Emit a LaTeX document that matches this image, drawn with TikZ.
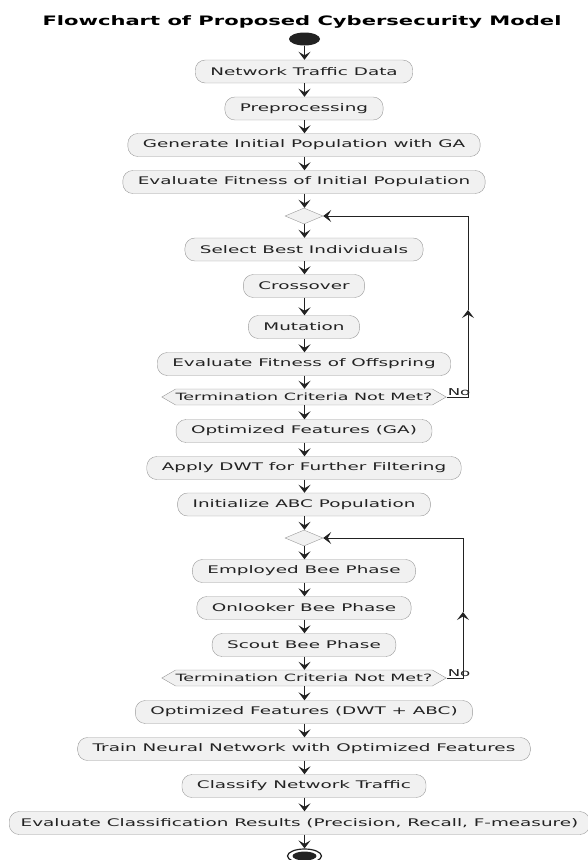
\documentclass[tikz,border=0pt]{standalone}
\usepackage{fontspec}
\usepackage{tikz}
\usetikzlibrary{arrows.meta,shapes.geometric,shapes.symbols}
\newfontfamily\umlfont[FakeStretch=1.75]{DejaVu Sans}
\newfontfamily\umltitle[FakeStretch=1.62]{DejaVu Sans Bold}
\definecolor{umlfill}{HTML}{F1F1F1}
\definecolor{umlborder}{HTML}{999999}
\definecolor{umlline}{HTML}{222222}
\tikzstyle{act}=[draw=umlborder, fill=umlfill, rounded corners=10pt, minimum height=23pt, inner xsep=15pt, inner ysep=0pt, text=umlline, font=\umlfont\fontsize{10.5}{12}\selectfont]
\tikzstyle{merge}=[diamond, draw=umlborder, fill=umlfill, minimum width=38pt, minimum height=16pt, inner sep=0pt]
\tikzstyle{cond}=[signal, signal to=west and east, signal pointer angle=60, draw=umlborder, fill=umlfill, minimum height=16pt, inner ysep=0pt, inner xsep=0pt, text=umlline, font=\umlfont\fontsize{10}{12}\selectfont]
\tikzstyle{flow}=[draw=umlline, line width=1.8pt, -{Stealth[length=8pt, width=12pt, inset=3.5pt]}]
\tikzstyle{back}=[draw=umlline, line width=0.9pt, -{Stealth[length=8pt, width=12pt, inset=3.5pt]}]
\tikzstyle{lab}=[text=umlline, font=\umlfont\fontsize{9.5}{10}\selectfont, inner sep=1pt]
\begin{document}
\begin{tikzpicture}[x=1pt, y=-1pt]
      \useasboundingbox (0,0) rectangle (587,860);
      %
      \node at (302,22) [font=\umltitle\fontsize{13}{15}\selectfont] (title) {Flowchart of Proposed Cybersecurity Model};
      \node at (304.5,39) [ellipse, fill=umlline, minimum width=31pt, minimum height=13pt, inner sep=0pt] (start) {};
      % genetic algorithm part
      \node at (304,71.5) [act] (n1) {Network Traffic Data};
      \node at (304,108.5) [act] (n2) {Preprocessing};
      \node at (304,145) [act] (n3) {Generate Initial Population with GA};
      \node at (304,182) [act] (n4) {Evaluate Fitness of Initial Population};
      \node at (304,216) [merge] (m1) {};
      \node at (304,249.5) [act] (g1) {Select Best Individuals};
      \node at (304,286) [act] (g2) {Crossover};
      \node at (304,327) [act] (g3) {Mutation};
      \node at (304,364) [act] (g4) {Evaluate Fitness of Offspring};
      \node at (304,397) [cond] (t1) {Termination Criteria Not Met?};
      % bee colony part
      \node at (304,431) [act] (o1) {Optimized Features (GA)};
      \node at (304,468) [act] (o2) {Apply DWT for Further Filtering};
      \node at (304,504.5) [act] (o3) {Initialize ABC Population};
      \node at (304,538) [merge] (m2) {};
      \node at (304,571) [act] (b1) {Employed Bee Phase};
      \node at (304,608) [act] (b2) {Onlooker Bee Phase};
      \node at (304,645) [act] (b3) {Scout Bee Phase};
      \node at (304,678) [cond] (t2) {Termination Criteria Not Met?};
      % classification
      \node at (304,712) [act] (c1) {Optimized Features (DWT + ABC)};
      \node at (304,749) [act] (c2) {Train Neural Network with Optimized Features};
      \node at (304,786) [act] (c3) {Classify Network Traffic};
      \node at (299.5,823) [act, inner xsep=11.5pt] (c4) {Evaluate Classification Results (Precision, Recall, F-measure)};
      \node at (304.5,856) [ellipse, draw=umlline, fill=white, line width=1.2pt, minimum width=34pt, minimum height=14pt, inner sep=0pt] (stop) {};
      \node at (stop.center) [ellipse, fill=umlline, minimum width=24pt, minimum height=9pt, inner sep=0pt] (stopdot) {};
      %
      \foreach \a/\b in {start/n1, n1/n2, n2/n3, n3/n4, n4/m1, m1/g1, g1/g2, g2/g3, g3/g4, g4/t1, t1/o1, o1/o2, o2/o3, o3/m2, m2/b1, b1/b2, b2/b3, b3/t2, t2/c1, c1/c2, c2/c3, c3/c4, c4/stop}
        \draw[flow] (\a.south -| start) -- (\b.north -| start);
      % loops back
      \coordinate (l1) at (468,310);
      \coordinate (l2) at (463,612);
      \draw[back] (t1.east) -| (l1);
      \draw[back] (l1) |- (m1.east);
      \draw[back] (t2.east) -| (l2);
      \draw[back] (l2) |- (m2.east);
      \node at (t1.east) [lab, anchor=south west] (no1) {No};
      \node at (t2.east) [lab, anchor=south west] (no2) {No};
\end{tikzpicture}
\end{document}
